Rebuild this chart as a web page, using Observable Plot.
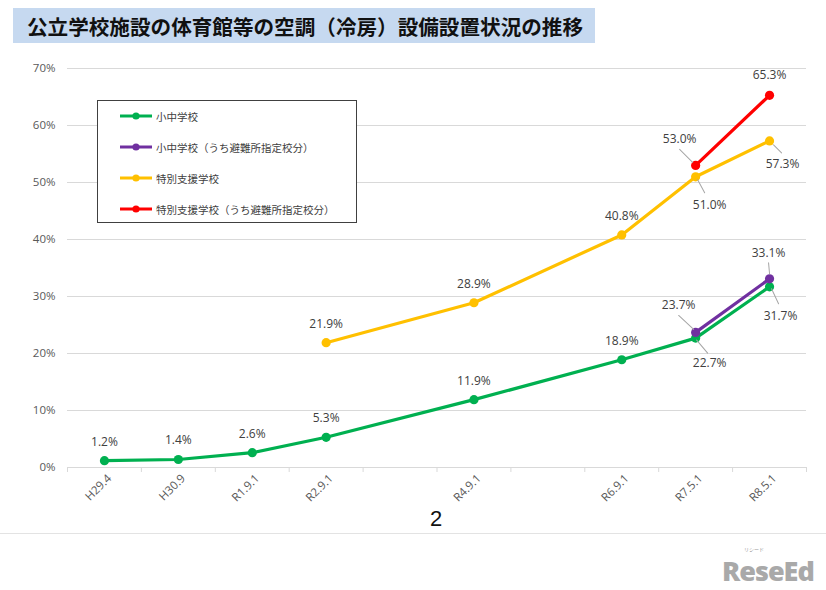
<!DOCTYPE html>
<html lang="ja">
<head>
<meta charset="utf-8">
<script src="https://cdn.jsdelivr.net/npm/d3@7"></script>
<script src="https://cdn.jsdelivr.net/npm/@observablehq/plot@0.6"></script>
<style>
  html, body { margin: 0; padding: 0; background: #fff; }
  #page { position: relative; width: 826px; height: 590px; font-family: "Noto Sans CJK JP", "Noto Sans", sans-serif; }
  #title { position: absolute; left: 13px; top: 8px; width: 582px; height: 35px; background: #c6d9f0; }
  #title span { position: absolute; left: 14px; top: 3px; font-size: 20.6px; font-weight: 700; color: #111; white-space: nowrap; }
  #chart { position: absolute; left: 0; top: 0; }
  #legend { position: absolute; left: 97px; top: 100px; width: 258px; height: 121px; border: 1.5px solid #404040; background: #fff; }
  .item { position: absolute; left: 21px; height: 16px; display: flex; align-items: center; font-size: 10.5px; color: #404040; white-space: nowrap; }
  .item svg { margin-right: 3px; }
  #page-no { position: absolute; left: 430px; top: 506px; font-family: "Liberation Sans", sans-serif; font-size: 22px; color: #111; }
  #rule { position: absolute; left: 0; top: 533px; width: 826px; height: 1px; background: #e3e3e3; }
  #logo-kana { position: absolute; left: 744px; top: 546px; font-family: "Noto Sans CJK JP", sans-serif; font-size: 5px; line-height: 5px; color: #999; }
  #logo { position: absolute; left: 722px; top: 556px; font-family: "Open Sans", sans-serif; font-weight: 800; font-size: 27px; line-height: 30px; color: #a9a9a9; letter-spacing: -1px; white-space: nowrap; }
</style>
</head>
<body>
<div id="page">
  <div id="chart"></div>
  <div id="title"><span>公立学校施設の体育館等の空調（冷房）設備設置状況の推移</span></div>
  <div id="legend"></div>
  <div id="page-no">2</div>
  <div id="rule"></div>
  <div id="logo-kana">リシード</div>
  <div id="logo">ReseEd</div>
</div>
<script>
// Survey dates on the category axis (blank slots keep the time gaps)
const categories = ["H29.4", "H30.9", "R1.9.1", "R2.9.1", "", "R4.9.1", "", "R6.9.1", "R7.5.1", "R8.5.1"];

// Series names
const seriesNames = ["小中学校", "小中学校（うち避難所指定校分）", "特別支援学校", "特別支援学校（うち避難所指定校分）"];
const seriesColors = ["#00b050", "#7030a0", "#ffc000", "#ff0000"];

// Cooling installation rate (%) — category index and value
const elementaryIdx = [0, 1, 2, 3, 5, 7, 8, 9];
const elementaryVal = [1.2, 1.4, 2.6, 5.3, 11.9, 18.9, 22.7, 31.7];
const elementaryShelterIdx = [8, 9];
const elementaryShelterVal = [23.7, 33.1];
const specialIdx = [3, 5, 7, 8, 9];
const specialVal = [21.9, 28.9, 40.8, 51.0, 57.3];
const specialShelterIdx = [8, 9];
const specialShelterVal = [53.0, 65.3];

const yTicks = [0, 10, 20, 30, 40, 50, 60, 70];

// Label placement (text offset and leader line, in pixels) for labels not set above the point
const labelPlacement = {
  "0|8": {dx: 14, dy: 25, leader: [1, 2, 12, 15]},
  "0|9": {dx: 11, dy: 29, leader: [2, 2, 9, 17]},
  "1|8": {dx: -17, dy: -27, leader: [-17, -17, -2, -3]},
  "1|9": {dx: -1, dy: -26, leader: [-1, -16, 0, -5]},
  "2|8": {dx: 14, dy: 28, leader: [2, 3, 9, 16]},
  "2|9": {dx: 13, dy: 23, leader: [4, 4, 12, 12]},
  "3|8": {dx: -16, dy: -26, leader: [-16, -16, -3, -3]},
  "3|9": {dx: 0, dy: -20}
};

const seriesIdx = [elementaryIdx, elementaryShelterIdx, specialIdx, specialShelterIdx];
const seriesVal = [elementaryVal, elementaryShelterVal, specialVal, specialShelterVal];

const rows = seriesIdx.flatMap((idx, s) => idx.map((i, k) => ({s, i, v: seriesVal[s][k]})));

const labelFont = "Open Sans, Liberation Sans, sans-serif";

const marks = [
  Plot.gridY({ticks: yTicks.filter(d => d > 0), stroke: "#d9d9d9", strokeOpacity: 1}),
  Plot.ruleY([0], {stroke: "#d9d9d9"}),
  Plot.axisY({ticks: yTicks, tickSize: 0, tickPadding: 12, tickFormat: d => d + "%", label: null,
    fontSize: 11.5, fill: "#595959", fontFamily: labelFont}),
  // category boundary tick marks
  Plot.axisX({ticks: d3.range(-0.5, categories.length, 1), tickSize: 5, stroke: "#d9d9d9",
    strokeOpacity: 1, fill: "none", tickFormat: () => "", label: null}),
  Plot.axisX({ticks: categories.map((c, i) => c ? i : null).filter(i => i !== null),
    tickSize: 0, tickPadding: 9, dx: 5, tickRotate: -45, tickFormat: i => categories[i], label: null,
    fontSize: 11.5, fill: "#595959", fontFamily: labelFont})
];

seriesIdx.forEach((idx, s) => {
  const data = rows.filter(r => r.s === s);
  marks.push(Plot.line(data, {x: "i", y: "v", stroke: seriesColors[s], strokeWidth: 3.2}));
  marks.push(Plot.dot(data, {x: "i", y: "v", fill: seriesColors[s], r: 4.6}));
});

// leader lines drawn as vectors anchored near each point
const leaderShape = {draw(context, l) { context.moveTo(0, 0); context.lineTo(0, -l); }};
rows.forEach(r => {
  const p = labelPlacement[r.s + "|" + r.i];
  if (!p || !p.leader) return;
  const [sx, sy, ex, ey] = p.leader;
  marks.push(Plot.vector([r], {x: "i", y: "v", dx: sx, dy: sy, anchor: "start",
    length: Math.hypot(ex - sx, ey - sy),
    rotate: Math.atan2(ex - sx, -(ey - sy)) * 180 / Math.PI,
    shape: leaderShape, stroke: "#a6a6a6", strokeWidth: 1}));
});

// value labels
rows.forEach(r => {
  const p = labelPlacement[r.s + "|" + r.i] || {dx: 0, dy: -19};
  marks.push(Plot.text([r], {x: "i", y: "v", text: d => d.v.toFixed(1) + "%",
    dx: p.dx, dy: p.dy, fontSize: 12, fill: "#404040", fontFamily: labelFont}));
});

const chart = Plot.plot({
  width: 826,
  height: 512,
  marginTop: 68,
  marginBottom: 45,
  marginLeft: 67,
  marginRight: 20,
  style: {background: "transparent", overflow: "visible"},
  x: {type: "linear", domain: [-0.5, categories.length - 0.5], label: null},
  y: {domain: [0, 70], label: null},
  marks
});
document.getElementById("chart").appendChild(chart);

// legend
const legend = document.getElementById("legend");
const rowTops = [7, 38, 69, 100];
seriesNames.forEach((name, s) => {
  const item = document.createElement("div");
  item.className = "item";
  item.style.top = rowTops[s] + "px";
  item.innerHTML = `<svg width="34" height="10"><line x1="1" x2="33" y1="5" y2="5" stroke="${seriesColors[s]}" stroke-width="3"/><circle cx="17" cy="5" r="3.6" fill="${seriesColors[s]}"/></svg>`;
  const span = document.createElement("span");
  span.textContent = name;
  item.appendChild(span);
  legend.appendChild(item);
});
</script>
</body>
</html>
